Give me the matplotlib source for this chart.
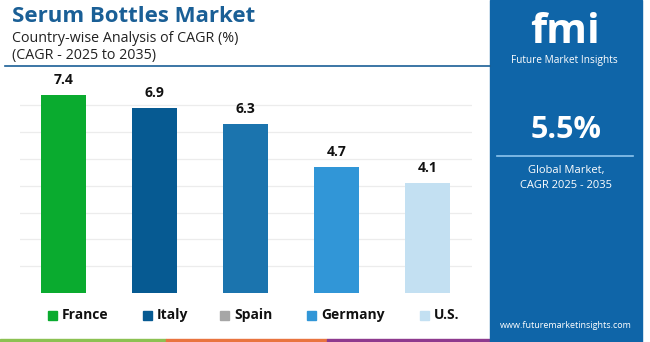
import matplotlib
matplotlib.use("Agg")
from matplotlib import pyplot as plt
from matplotlib.patches import Rectangle

plt.rcParams['font.family'] = ['Open Sans', 'DejaVu Sans']

countries = ["France", "Italy", "Spain", "Germany", "U.S."]
cagr = [7.4, 6.9, 6.3, 4.7, 4.1]
bar_colors = ["#0aab2f", "#065a92", "#1b74ae", "#3196d7", "#c3e0f2"]
legend_colors = ["#0aab2f", "#065a92", "#a6a6a6", "#3196d7", "#c3e0f2"]
global_cagr = "5.5%"

W, H = 650, 342
fig = plt.figure(figsize=(W / 100, H / 100), dpi=100)
fig.patch.set_facecolor("white")


def px(x, y):
    # pixel coords (top-left origin) -> figure fraction
    return x / W, 1 - y / H


# bar chart
ax = fig.add_axes([20 / W, 49 / H, 452 / W, 213 / H])
xs = list(range(len(countries)))
ax.bar(xs, cagr, width=0.495, color=bar_colors, zorder=2)
for x, v in zip(xs, cagr):
    ax.text(x, v + 0.3, f"{v}", ha="center", va="bottom", fontsize=10,
            fontweight="bold", color="#111111", clip_on=False)
ax.set_xlim(-0.478, 4.489)
ax.set_ylim(0, 7.95)
ax.set_yticks(range(1, 8))
ax.grid(axis="y", color="#ececec", lw=0.9, zorder=0)
ax.tick_params(left=False, bottom=False, labelleft=False, labelbottom=False)
for s in ax.spines.values():
    s.set_visible(False)
ax.patch.set_alpha(0)

# titles
fig.text(*px(12, 17), "Serum Bottles Market", fontsize=16, fontweight="bold",
         color="#1a5f96", va="center", ha="left")
fig.text(*px(12, 38), "Country-wise Analysis of CAGR (%)", fontsize=10.3,
         color="#222222", va="center", ha="left")
fig.text(*px(12, 55), "(CAGR - 2025 to 2035)", fontsize=10.3,
         color="#222222", va="center", ha="left")
fig.add_artist(plt.Line2D([5 / W, 490 / W], [1 - 66 / H] * 2, color="#1a5f96", lw=1.2))

# legend
leg_x = [48, 143, 220, 307, 420]
for lx, name, c in zip(leg_x, countries, legend_colors):
    fig.add_artist(Rectangle(px(lx, 320), 9 / W, 9 / H, color=c))
    fig.text(*px(lx + 14, 315), name, fontsize=10, fontweight="bold",
             color="#111111", va="center", ha="left")

# bottom strip
for x0, x1, c in [(0, 166, "#8cc152"), (166, 327, "#e9743f"), (327, 490, "#8e3a8e")]:
    fig.add_artist(Rectangle(px(x0, 342), (x1 - x0) / W, 3 / H, color=c))

# right panel
fig.add_artist(Rectangle(px(490, 342), 152 / W, 342 / H, color="#0f65a8"))
fig.text(*px(565, 43), "fmi", fontsize=30, fontweight="bold", color="white",
         ha="center", va="baseline")
fig.text(*px(564, 61), "Future Market Insights", fontsize=7.3, color="white",
         ha="center", va="center")
fig.text(*px(566, 130), global_cagr, fontsize=22, fontweight="bold", color="white",
         ha="center", va="center")
fig.add_artist(plt.Line2D([497 / W, 633 / W], [1 - 156 / H] * 2, color="#8cc4ee", lw=1.2))
fig.text(*px(566, 171), "Global Market,", fontsize=8, color="white",
         ha="center", va="center")
fig.text(*px(566, 185), "CAGR 2025 - 2035", fontsize=8, color="white",
         ha="center", va="center")
fig.text(*px(566, 326), "www.futuremarketinsights.com", fontsize=6.5, color="white",
         ha="center", va="center")

fig.savefig("out.png", dpi=100)
